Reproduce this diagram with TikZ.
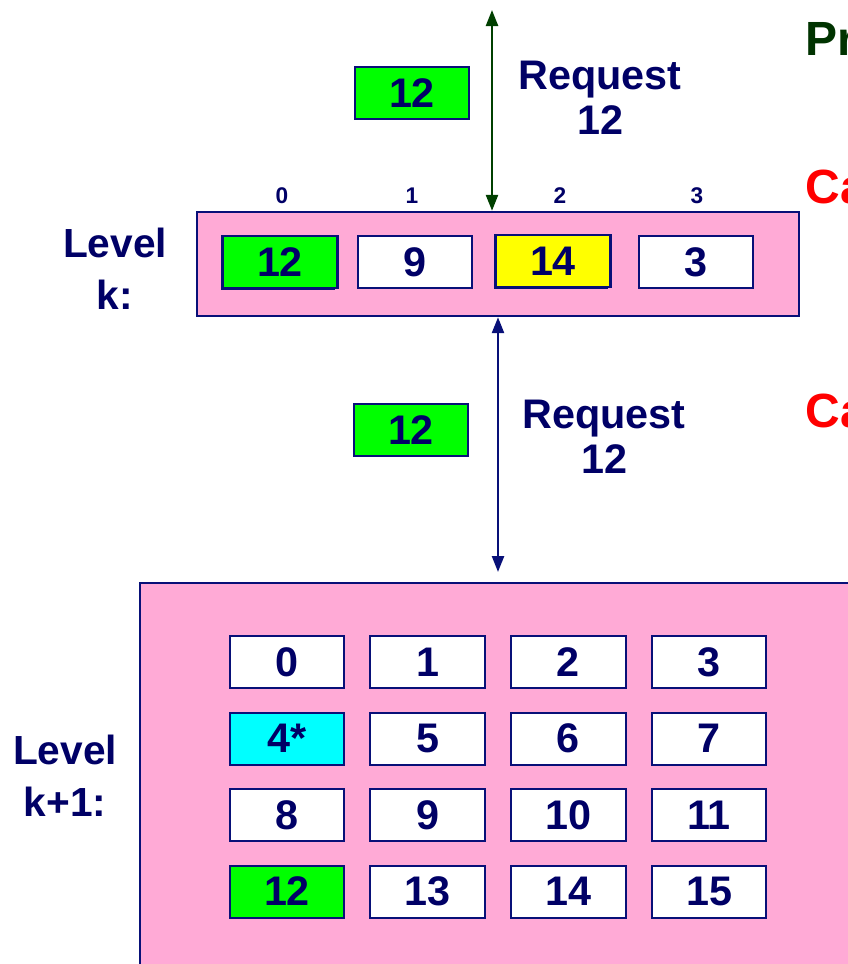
\documentclass[tikz,border=0pt]{standalone}
\usepackage{fontspec}
\setmainfont{Liberation Sans}
\usetikzlibrary{arrows.meta,shadows}

\definecolor{ink}{RGB}{0,0,102}
\definecolor{rim}{RGB}{8,16,120}
\definecolor{pinkfill}{RGB}{255,170,214}
\definecolor{hitgreen}{RGB}{0,255,0}
\definecolor{hityellow}{RGB}{255,255,0}
\definecolor{victim}{RGB}{0,255,255}
\definecolor{fwdgreen}{RGB}{0,64,0}
\definecolor{titlegreen}{RGB}{0,51,0}
\definecolor{alert}{RGB}{255,0,0}

\tikzset{
  cell/.style={draw=rim, line width=1.5pt, fill=white, minimum width=86pt,
    minimum height=39pt, inner sep=0pt, text=ink,
    font=\fontsize{31}{34}\selectfont\bfseries},
  hicell/.style={cell, line width=2pt,
    drop shadow={shadow xshift=-1.6pt, shadow yshift=-1.6pt, fill=rim, opacity=1}},
  level/.style={draw=rim, line width=1.8pt, fill=pinkfill, inner sep=0pt},
  lbl/.style={text=ink, align=center, font=\fontsize{30.5}{39}\selectfont\bfseries},
  reqtext/.style={text=ink, align=center, font=\fontsize{31}{34}\selectfont\bfseries},
  idx/.style={text=ink, font=\fontsize{17}{20}\selectfont\bfseries},
  side/.style={anchor=base west, font=\fontsize{36}{40}\selectfont\bfseries},
  req/.style={{Triangle[length=12pt,width=9pt]}-{Triangle[length=12pt,width=9pt]}, line width=1.8pt}
}

\begin{document}
\begin{tikzpicture}[x=0.75pt, y=-0.75pt]
        \useasboundingbox (0,0) rectangle (848,964);

        % Levels
        \node[level, minimum width=451.5pt, minimum height=78pt] (levk) at (498,264) {};
        \node[level, minimum width=547.5pt, minimum height=294pt] (levkk) at (505,779) {};
        \node[lbl] (lk) at (115,269) {Level\\k:};
        \node[lbl] (lkk) at (65,776) {Level\\k+1:};

        % Cache lines at level k
        \node[hicell, fill=hitgreen] (k0) at (280,262) {12};
        \node[cell] (k1) at (415,262) {9};
        \node[hicell, fill=hityellow] (k2) at (553,261) {14};
        \node[cell] (k3) at (696,262) {3};
        \foreach \i/\x in {0/282, 1/412, 2/560, 3/697}
            \node[idx] (i\i) at (\x,196) {\i};

        % Blocks at level k+1
        \foreach \n/\t/\f in {0/0/white, 1/1/white, 2/2/white, 3/3/white,
                              4/4*/victim, 5/5/white, 6/6/white, 7/7/white,
                              8/8/white, 9/9/white, 10/10/white, 11/11/white,
                              12/12/hitgreen, 13/13/white, 14/14/white, 15/15/white}
        {
            \pgfmathtruncatemacro\row{\n/4}
            \pgfmathtruncatemacro\col{mod(\n,4)}
            \node[cell, fill=\f] (b\n) at ({287+140.7*\col},{662+76.5*\row}) {\t};
        }

        % Requests
        \coordinate (top) at (492,10);
        \coordinate (mid) at (498,572);
        \draw[req, fwdgreen] (top) -- (top |- levk.north);
        \draw[req, rim] (mid |- levk.south) -- (mid);
        \node[cell, fill=hitgreen] (r1) at (412,93) {12};
        \node[cell, fill=hitgreen] (r2) at (411,430) {12};
        \node[reqtext] (q1) at (600,98) {Request\\12};
        \node[reqtext] (q2) at (604,437) {Request\\12};

        % Cut-off titles on the right
        \node[side, text=titlegreen] (pr) at (801,55) {Pr};
        \node[side, text=alert] (ca1) at (801,203) {Ca};
        \node[side, text=alert] (ca2) at (801,427) {Ca};
\end{tikzpicture}
\end{document}
